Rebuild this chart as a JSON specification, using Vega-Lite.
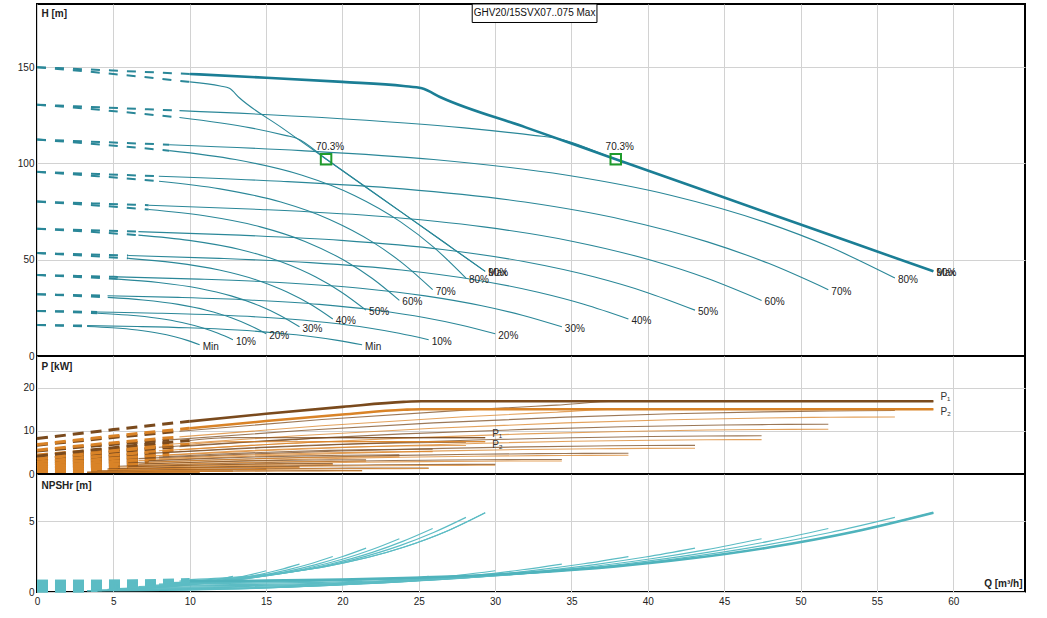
{
  "$schema": "https://vega.github.io/schema/vega-lite/v6.json",
  "padding": {"left": 16, "top": 2, "right": 10, "bottom": 5},
  "spacing": 0,
  "bounds": "flush",
  "config": {
    "font": "Liberation Sans",
    "view": {"stroke": "#000", "strokeWidth": 2},
    "axis": {"grid": true, "gridColor": "#d2d2d2", "gridWidth": 1, "domain": false, "ticks": false, "tickSize": 0, "labelFontSize": 10, "labelColor": "#222", "labelPadding": 3, "titleFontSize": 10, "titleFontWeight": "bold", "titleColor": "#222"},
    "axisY": {"titleAngle": 0, "titleAlign": "left", "titleBaseline": "top"},
    "axisX": {"labelFlush": false}
  },
  "datasets": {
    "duty": [
      {"Q": 18.93, "H": 102.2, "eta": "70.3%"},
      {"Q": 37.9, "H": 102.2, "eta": "70.3%"}
    ],
    "curves": [
      {"f":2,"s":"Min","z":"d","Q":0,"H":16.14,"P1":0.289,"P2":0.24,"N":0.081},
      {"f":2,"s":"Min","z":"d","Q":1.64,"H":15.95,"P1":0.362,"P2":0.309,"N":0.081},
      {"f":2,"s":"Min","z":"d","Q":3.28,"H":15.76,"P1":0.43,"P2":0.374,"N":0.082},
      {"f":2,"s":"Min","z":"o","Q":3.28,"H":15.76,"P1":0.43,"P2":0.374,"N":0.082},
      {"f":2,"s":"Min","z":"o","Q":6.56,"H":15.31,"P1":0.548,"P2":0.486,"N":0.095},
      {"f":2,"s":"Min","z":"o","Q":9.84,"H":14.65,"P1":0.643,"P2":0.576,"N":0.134},
      {"f":2,"s":"Min","z":"o","Q":13.12,"H":13.49,"P1":0.716,"P2":0.644,"N":0.218},
      {"f":2,"s":"Min","z":"o","Q":15.74,"H":11.97,"P1":0.758,"P2":0.682,"N":0.331},
      {"f":2,"s":"Min","z":"o","Q":18.04,"H":10.0,"P1":0.782,"P2":0.705,"N":0.473},
      {"f":2,"s":"Min","z":"o","Q":19.68,"H":8.12,"P1":0.793,"P2":0.714,"N":0.603},
      {"f":2,"s":"Min","z":"o","Q":21.29,"H":5.81,"P1":0.799,"P2":0.718,"N":0.756},
      {"f":1,"s":"Min","z":"d","Q":0,"H":16.14,"P1":0.145,"P2":0.12,"N":0.081},
      {"f":1,"s":"Min","z":"d","Q":1.64,"H":15.76,"P1":0.215,"P2":0.187,"N":0.082},
      {"f":1,"s":"Min","z":"d","Q":3.28,"H":15.31,"P1":0.274,"P2":0.243,"N":0.095},
      {"f":1,"s":"Min","z":"o","Q":3.28,"H":15.31,"P1":0.274,"P2":0.243,"N":0.095},
      {"f":1,"s":"Min","z":"o","Q":4.92,"H":14.65,"P1":0.322,"P2":0.288,"N":0.134},
      {"f":1,"s":"Min","z":"o","Q":6.56,"H":13.49,"P1":0.358,"P2":0.322,"N":0.218},
      {"f":1,"s":"Min","z":"o","Q":7.87,"H":11.97,"P1":0.379,"P2":0.341,"N":0.331},
      {"f":1,"s":"Min","z":"o","Q":9.02,"H":10.0,"P1":0.391,"P2":0.353,"N":0.473},
      {"f":1,"s":"Min","z":"o","Q":9.84,"H":8.12,"P1":0.397,"P2":0.357,"N":0.603},
      {"f":1,"s":"Min","z":"o","Q":10.65,"H":5.81,"P1":0.4,"P2":0.359,"N":0.756},

      {"f":2,"s":"10%","z":"d","Q":0,"H":23.43,"P1":0.506,"P2":0.42,"N":0.117},
      {"f":2,"s":"10%","z":"d","Q":1.98,"H":23.15,"P1":0.634,"P2":0.541,"N":0.117},
      {"f":2,"s":"10%","z":"d","Q":3.95,"H":22.87,"P1":0.752,"P2":0.654,"N":0.119},
      {"f":2,"s":"10%","z":"o","Q":3.95,"H":22.87,"P1":0.752,"P2":0.654,"N":0.119},
      {"f":2,"s":"10%","z":"o","Q":7.9,"H":22.23,"P1":0.958,"P2":0.849,"N":0.137},
      {"f":2,"s":"10%","z":"o","Q":11.86,"H":21.27,"P1":1.125,"P2":1.007,"N":0.194},
      {"f":2,"s":"10%","z":"o","Q":15.81,"H":19.59,"P1":1.252,"P2":1.126,"N":0.316},
      {"f":2,"s":"10%","z":"o","Q":18.97,"H":17.38,"P1":1.325,"P2":1.194,"N":0.48},
      {"f":2,"s":"10%","z":"o","Q":21.74,"H":14.52,"P1":1.368,"P2":1.233,"N":0.686},
      {"f":2,"s":"10%","z":"o","Q":23.71,"H":11.79,"P1":1.388,"P2":1.249,"N":0.875},
      {"f":2,"s":"10%","z":"o","Q":25.65,"H":8.44,"P1":1.397,"P2":1.256,"N":1.098},
      {"f":1,"s":"10%","z":"d","Q":0,"H":23.43,"P1":0.253,"P2":0.21,"N":0.117},
      {"f":1,"s":"10%","z":"d","Q":1.98,"H":22.87,"P1":0.376,"P2":0.327,"N":0.119},
      {"f":1,"s":"10%","z":"d","Q":3.95,"H":22.23,"P1":0.479,"P2":0.425,"N":0.137},
      {"f":1,"s":"10%","z":"o","Q":3.95,"H":22.23,"P1":0.479,"P2":0.425,"N":0.137},
      {"f":1,"s":"10%","z":"o","Q":5.93,"H":21.27,"P1":0.563,"P2":0.504,"N":0.194},
      {"f":1,"s":"10%","z":"o","Q":7.91,"H":19.59,"P1":0.626,"P2":0.563,"N":0.316},
      {"f":1,"s":"10%","z":"o","Q":9.49,"H":17.38,"P1":0.663,"P2":0.597,"N":0.48},
      {"f":1,"s":"10%","z":"o","Q":10.87,"H":14.52,"P1":0.684,"P2":0.617,"N":0.686},
      {"f":1,"s":"10%","z":"o","Q":11.86,"H":11.79,"P1":0.694,"P2":0.625,"N":0.875},
      {"f":1,"s":"10%","z":"o","Q":12.83,"H":8.44,"P1":0.699,"P2":0.628,"N":1.098},

      {"f":2,"s":"20%","z":"d","Q":0,"H":32.07,"P1":0.811,"P2":0.672,"N":0.16},
      {"f":2,"s":"20%","z":"d","Q":2.31,"H":31.7,"P1":1.015,"P2":0.867,"N":0.161},
      {"f":2,"s":"20%","z":"d","Q":4.62,"H":31.31,"P1":1.204,"P2":1.047,"N":0.163},
      {"f":2,"s":"20%","z":"o","Q":4.62,"H":31.31,"P1":1.204,"P2":1.047,"N":0.163},
      {"f":2,"s":"20%","z":"o","Q":9.25,"H":30.43,"P1":1.534,"P2":1.36,"N":0.188},
      {"f":2,"s":"20%","z":"o","Q":13.87,"H":29.11,"P1":1.801,"P2":1.613,"N":0.266},
      {"f":2,"s":"20%","z":"o","Q":18.5,"H":26.82,"P1":2.005,"P2":1.803,"N":0.433},
      {"f":2,"s":"20%","z":"o","Q":22.2,"H":23.79,"P1":2.123,"P2":1.912,"N":0.657},
      {"f":2,"s":"20%","z":"o","Q":25.43,"H":19.88,"P1":2.192,"P2":1.974,"N":0.939},
      {"f":2,"s":"20%","z":"o","Q":27.74,"H":16.14,"P1":2.222,"P2":2.001,"N":1.198},
      {"f":2,"s":"20%","z":"o","Q":30.01,"H":11.55,"P1":2.237,"P2":2.012,"N":1.503},
      {"f":1,"s":"20%","z":"d","Q":0,"H":32.07,"P1":0.406,"P2":0.336,"N":0.16},
      {"f":1,"s":"20%","z":"d","Q":2.31,"H":31.31,"P1":0.602,"P2":0.524,"N":0.163},
      {"f":1,"s":"20%","z":"d","Q":4.63,"H":30.43,"P1":0.767,"P2":0.68,"N":0.188},
      {"f":1,"s":"20%","z":"o","Q":4.63,"H":30.43,"P1":0.767,"P2":0.68,"N":0.188},
      {"f":1,"s":"20%","z":"o","Q":6.94,"H":29.11,"P1":0.901,"P2":0.807,"N":0.266},
      {"f":1,"s":"20%","z":"o","Q":9.25,"H":26.82,"P1":1.003,"P2":0.902,"N":0.433},
      {"f":1,"s":"20%","z":"o","Q":11.1,"H":23.79,"P1":1.062,"P2":0.956,"N":0.657},
      {"f":1,"s":"20%","z":"o","Q":12.72,"H":19.88,"P1":1.096,"P2":0.987,"N":0.939},
      {"f":1,"s":"20%","z":"o","Q":13.87,"H":16.14,"P1":1.111,"P2":1.001,"N":1.198},
      {"f":1,"s":"20%","z":"o","Q":15.01,"H":11.55,"P1":1.119,"P2":1.006,"N":1.503},

      {"f":2,"s":"30%","z":"d","Q":0,"H":42.07,"P1":1.218,"P2":1.01,"N":0.21},
      {"f":2,"s":"30%","z":"d","Q":2.65,"H":41.58,"P1":1.526,"P2":1.303,"N":0.211},
      {"f":2,"s":"30%","z":"d","Q":5.3,"H":41.08,"P1":1.809,"P2":1.573,"N":0.214},
      {"f":2,"s":"30%","z":"o","Q":5.3,"H":41.08,"P1":1.809,"P2":1.573,"N":0.214},
      {"f":2,"s":"30%","z":"o","Q":10.59,"H":39.92,"P1":2.305,"P2":2.044,"N":0.247},
      {"f":2,"s":"30%","z":"o","Q":15.89,"H":38.19,"P1":2.706,"P2":2.423,"N":0.349},
      {"f":2,"s":"30%","z":"o","Q":21.18,"H":35.18,"P1":3.012,"P2":2.709,"N":0.567},
      {"f":2,"s":"30%","z":"o","Q":25.42,"H":31.21,"P1":3.189,"P2":2.873,"N":0.862},
      {"f":2,"s":"30%","z":"o","Q":29.13,"H":26.07,"P1":3.293,"P2":2.966,"N":1.232},
      {"f":2,"s":"30%","z":"o","Q":31.78,"H":21.17,"P1":3.339,"P2":3.006,"N":1.572},
      {"f":2,"s":"30%","z":"o","Q":34.37,"H":15.15,"P1":3.361,"P2":3.023,"N":1.972},
      {"f":1,"s":"30%","z":"d","Q":0,"H":42.07,"P1":0.609,"P2":0.505,"N":0.21},
      {"f":1,"s":"30%","z":"d","Q":2.65,"H":41.08,"P1":0.905,"P2":0.787,"N":0.214},
      {"f":1,"s":"30%","z":"d","Q":5.3,"H":39.92,"P1":1.153,"P2":1.022,"N":0.247},
      {"f":1,"s":"30%","z":"o","Q":5.3,"H":39.92,"P1":1.153,"P2":1.022,"N":0.247},
      {"f":1,"s":"30%","z":"o","Q":7.95,"H":38.19,"P1":1.353,"P2":1.212,"N":0.349},
      {"f":1,"s":"30%","z":"o","Q":10.59,"H":35.18,"P1":1.506,"P2":1.355,"N":0.567},
      {"f":1,"s":"30%","z":"o","Q":12.71,"H":31.21,"P1":1.595,"P2":1.437,"N":0.862},
      {"f":1,"s":"30%","z":"o","Q":14.57,"H":26.07,"P1":1.647,"P2":1.483,"N":1.232},
      {"f":1,"s":"30%","z":"o","Q":15.89,"H":21.17,"P1":1.67,"P2":1.503,"N":1.572},
      {"f":1,"s":"30%","z":"o","Q":17.19,"H":15.15,"P1":1.681,"P2":1.512,"N":1.972},

      {"f":2,"s":"40%","z":"d","Q":0,"H":53.43,"P1":1.743,"P2":1.445,"N":0.267},
      {"f":2,"s":"40%","z":"d","Q":2.98,"H":52.8,"P1":2.183,"P2":1.864,"N":0.267},
      {"f":2,"s":"40%","z":"d","Q":5.97,"H":52.16,"P1":2.589,"P2":2.251,"N":0.272},
      {"f":2,"s":"40%","z":"o","Q":5.97,"H":52.16,"P1":2.589,"P2":2.251,"N":0.272},
      {"f":2,"s":"40%","z":"o","Q":11.94,"H":50.7,"P1":3.299,"P2":2.925,"N":0.313},
      {"f":2,"s":"40%","z":"o","Q":17.9,"H":48.5,"P1":3.873,"P2":3.467,"N":0.443},
      {"f":2,"s":"40%","z":"o","Q":23.87,"H":44.67,"P1":4.311,"P2":3.877,"N":0.721},
      {"f":2,"s":"40%","z":"o","Q":28.65,"H":39.63,"P1":4.564,"P2":4.111,"N":1.095},
      {"f":2,"s":"40%","z":"o","Q":32.82,"H":33.11,"P1":4.712,"P2":4.245,"N":1.565},
      {"f":2,"s":"40%","z":"o","Q":35.81,"H":26.88,"P1":4.778,"P2":4.302,"N":1.996},
      {"f":2,"s":"40%","z":"o","Q":38.73,"H":19.24,"P1":4.81,"P2":4.326,"N":2.504},
      {"f":1,"s":"40%","z":"d","Q":0,"H":53.43,"P1":0.872,"P2":0.723,"N":0.267},
      {"f":1,"s":"40%","z":"d","Q":2.99,"H":52.16,"P1":1.295,"P2":1.126,"N":0.272},
      {"f":1,"s":"40%","z":"d","Q":5.97,"H":50.7,"P1":1.65,"P2":1.463,"N":0.313},
      {"f":1,"s":"40%","z":"o","Q":5.97,"H":50.7,"P1":1.65,"P2":1.463,"N":0.313},
      {"f":1,"s":"40%","z":"o","Q":8.95,"H":48.5,"P1":1.937,"P2":1.734,"N":0.443},
      {"f":1,"s":"40%","z":"o","Q":11.94,"H":44.67,"P1":2.156,"P2":1.939,"N":0.721},
      {"f":1,"s":"40%","z":"o","Q":14.33,"H":39.63,"P1":2.282,"P2":2.056,"N":1.095},
      {"f":1,"s":"40%","z":"o","Q":16.41,"H":33.11,"P1":2.356,"P2":2.123,"N":1.565},
      {"f":1,"s":"40%","z":"o","Q":17.91,"H":26.88,"P1":2.389,"P2":2.151,"N":1.996},
      {"f":1,"s":"40%","z":"o","Q":19.37,"H":19.24,"P1":2.405,"P2":2.163,"N":2.504},

      {"f":2,"s":"50%","z":"d","Q":0,"H":66.14,"P1":2.401,"P2":1.991,"N":0.331},
      {"f":2,"s":"50%","z":"d","Q":3.32,"H":65.36,"P1":3.007,"P2":2.567,"N":0.331},
      {"f":2,"s":"50%","z":"d","Q":6.64,"H":64.57,"P1":3.566,"P2":3.1,"N":0.336},
      {"f":2,"s":"50%","z":"o","Q":6.64,"H":64.57,"P1":3.566,"P2":3.1,"N":0.336},
      {"f":2,"s":"50%","z":"o","Q":13.28,"H":62.76,"P1":4.543,"P2":4.028,"N":0.388},
      {"f":2,"s":"50%","z":"o","Q":19.92,"H":60.03,"P1":5.334,"P2":4.775,"N":0.548},
      {"f":2,"s":"50%","z":"o","Q":26.56,"H":55.3,"P1":5.937,"P2":5.34,"N":0.892},
      {"f":2,"s":"50%","z":"o","Q":31.87,"H":49.06,"P1":6.285,"P2":5.662,"N":1.356},
      {"f":2,"s":"50%","z":"o","Q":36.52,"H":40.99,"P1":6.49,"P2":5.846,"N":1.937},
      {"f":2,"s":"50%","z":"o","Q":39.84,"H":33.28,"P1":6.581,"P2":5.925,"N":2.471},
      {"f":2,"s":"50%","z":"o","Q":43.09,"H":23.81,"P1":6.625,"P2":5.957,"N":3.1},
      {"f":1,"s":"50%","z":"d","Q":0,"H":66.14,"P1":1.201,"P2":0.996,"N":0.331},
      {"f":1,"s":"50%","z":"d","Q":3.32,"H":64.57,"P1":1.783,"P2":1.55,"N":0.336},
      {"f":1,"s":"50%","z":"d","Q":6.64,"H":62.76,"P1":2.272,"P2":2.014,"N":0.388},
      {"f":1,"s":"50%","z":"o","Q":6.64,"H":62.76,"P1":2.272,"P2":2.014,"N":0.388},
      {"f":1,"s":"50%","z":"o","Q":9.96,"H":60.03,"P1":2.667,"P2":2.388,"N":0.548},
      {"f":1,"s":"50%","z":"o","Q":13.28,"H":55.3,"P1":2.969,"P2":2.67,"N":0.892},
      {"f":1,"s":"50%","z":"o","Q":15.94,"H":49.06,"P1":3.143,"P2":2.831,"N":1.356},
      {"f":1,"s":"50%","z":"o","Q":18.26,"H":40.99,"P1":3.245,"P2":2.923,"N":1.937},
      {"f":1,"s":"50%","z":"o","Q":19.92,"H":33.28,"P1":3.291,"P2":2.963,"N":2.471},
      {"f":1,"s":"50%","z":"o","Q":21.55,"H":23.81,"P1":3.313,"P2":2.979,"N":3.1},

      {"f":2,"s":"60%","z":"d","Q":0,"H":80.2,"P1":3.206,"P2":2.658,"N":0.401},
      {"f":2,"s":"60%","z":"d","Q":3.66,"H":79.26,"P1":4.015,"P2":3.429,"N":0.402},
      {"f":2,"s":"60%","z":"d","Q":7.31,"H":78.31,"P1":4.762,"P2":4.14,"N":0.408},
      {"f":2,"s":"60%","z":"o","Q":7.31,"H":78.31,"P1":4.762,"P2":4.14,"N":0.408},
      {"f":2,"s":"60%","z":"o","Q":14.62,"H":76.1,"P1":6.067,"P2":5.379,"N":0.47},
      {"f":2,"s":"60%","z":"o","Q":21.94,"H":72.8,"P1":7.123,"P2":6.376,"N":0.665},
      {"f":2,"s":"60%","z":"o","Q":29.25,"H":67.06,"P1":7.928,"P2":7.131,"N":1.082},
      {"f":2,"s":"60%","z":"o","Q":35.1,"H":59.5,"P1":8.394,"P2":7.561,"N":1.644},
      {"f":2,"s":"60%","z":"o","Q":40.22,"H":49.7,"P1":8.667,"P2":7.807,"N":2.349},
      {"f":2,"s":"60%","z":"o","Q":43.87,"H":40.36,"P1":8.788,"P2":7.913,"N":2.997},
      {"f":2,"s":"60%","z":"o","Q":47.45,"H":28.88,"P1":8.847,"P2":7.956,"N":3.759},
      {"f":1,"s":"60%","z":"d","Q":0,"H":80.2,"P1":1.603,"P2":1.329,"N":0.401},
      {"f":1,"s":"60%","z":"d","Q":3.66,"H":78.31,"P1":2.381,"P2":2.07,"N":0.408},
      {"f":1,"s":"60%","z":"d","Q":7.31,"H":76.1,"P1":3.034,"P2":2.69,"N":0.47},
      {"f":1,"s":"60%","z":"o","Q":7.31,"H":76.1,"P1":3.034,"P2":2.69,"N":0.47},
      {"f":1,"s":"60%","z":"o","Q":10.97,"H":72.8,"P1":3.562,"P2":3.188,"N":0.665},
      {"f":1,"s":"60%","z":"o","Q":14.63,"H":67.06,"P1":3.964,"P2":3.566,"N":1.082},
      {"f":1,"s":"60%","z":"o","Q":17.55,"H":59.5,"P1":4.197,"P2":3.781,"N":1.644},
      {"f":1,"s":"60%","z":"o","Q":20.11,"H":49.7,"P1":4.334,"P2":3.904,"N":2.349},
      {"f":1,"s":"60%","z":"o","Q":21.94,"H":40.36,"P1":4.394,"P2":3.957,"N":2.997},
      {"f":1,"s":"60%","z":"o","Q":23.73,"H":28.88,"P1":4.424,"P2":3.978,"N":3.759},

      {"f":2,"s":"70%","z":"d","Q":0,"H":95.62,"P1":4.173,"P2":3.461,"N":0.478},
      {"f":2,"s":"70%","z":"d","Q":3.99,"H":94.5,"P1":5.227,"P2":4.463,"N":0.479},
      {"f":2,"s":"70%","z":"d","Q":7.98,"H":93.36,"P1":6.199,"P2":5.39,"N":0.486},
      {"f":2,"s":"70%","z":"o","Q":7.98,"H":93.36,"P1":6.199,"P2":5.39,"N":0.486},
      {"f":2,"s":"70%","z":"o","Q":15.97,"H":90.73,"P1":7.899,"P2":7.003,"N":0.56},
      {"f":2,"s":"70%","z":"o","Q":23.95,"H":86.79,"P1":9.273,"P2":8.301,"N":0.792},
      {"f":2,"s":"70%","z":"o","Q":31.94,"H":79.95,"P1":10.321,"P2":9.283,"N":1.29},
      {"f":2,"s":"70%","z":"o","Q":38.32,"H":70.93,"P1":10.927,"P2":9.843,"N":1.96},
      {"f":2,"s":"70%","z":"o","Q":43.91,"H":59.26,"P1":11.283,"P2":10.163,"N":2.8},
      {"f":2,"s":"70%","z":"o","Q":47.9,"H":48.11,"P1":11.441,"P2":10.301,"N":3.573},
      {"f":2,"s":"70%","z":"o","Q":51.82,"H":34.43,"P1":11.517,"P2":10.357,"N":4.481},
      {"f":1,"s":"70%","z":"d","Q":0,"H":95.62,"P1":2.087,"P2":1.731,"N":0.478},
      {"f":1,"s":"70%","z":"d","Q":3.99,"H":93.36,"P1":3.1,"P2":2.695,"N":0.486},
      {"f":1,"s":"70%","z":"d","Q":7.99,"H":90.73,"P1":3.95,"P2":3.502,"N":0.56},
      {"f":1,"s":"70%","z":"o","Q":7.99,"H":90.73,"P1":3.95,"P2":3.502,"N":0.56},
      {"f":1,"s":"70%","z":"o","Q":11.98,"H":86.79,"P1":4.637,"P2":4.151,"N":0.792},
      {"f":1,"s":"70%","z":"o","Q":15.97,"H":79.95,"P1":5.161,"P2":4.642,"N":1.29},
      {"f":1,"s":"70%","z":"o","Q":19.16,"H":70.93,"P1":5.464,"P2":4.922,"N":1.96},
      {"f":1,"s":"70%","z":"o","Q":21.96,"H":59.26,"P1":5.642,"P2":5.082,"N":2.8},
      {"f":1,"s":"70%","z":"o","Q":23.95,"H":48.11,"P1":5.721,"P2":5.151,"N":3.573},
      {"f":1,"s":"70%","z":"o","Q":25.91,"H":34.43,"P1":5.759,"P2":5.179,"N":4.481},

      {"f":2,"s":"80%","z":"d","Q":0,"H":112.39,"P1":5.318,"P2":4.41,"N":0.562},
      {"f":2,"s":"80%","z":"d","Q":4.33,"H":111.07,"P1":6.661,"P2":5.688,"N":0.563},
      {"f":2,"s":"80%","z":"d","Q":8.66,"H":109.74,"P1":7.899,"P2":6.868,"N":0.572},
      {"f":2,"s":"80%","z":"o","Q":8.66,"H":109.74,"P1":7.899,"P2":6.868,"N":0.572},
      {"f":2,"s":"80%","z":"o","Q":17.31,"H":106.65,"P1":10.066,"P2":8.924,"N":0.659},
      {"f":2,"s":"80%","z":"o","Q":25.97,"H":102.02,"P1":11.817,"P2":10.578,"N":0.931},
      {"f":2,"s":"80%","z":"o","Q":34.62,"H":93.98,"P1":13.153,"P2":11.83,"N":1.516},
      {"f":2,"s":"80%","z":"o","Q":41.55,"H":83.38,"P1":13.925,"P2":12.543,"N":2.304},
      {"f":2,"s":"80%","z":"o","Q":47.61,"H":69.65,"P1":14.379,"P2":12.952,"N":3.292},
      {"f":2,"s":"80%","z":"o","Q":51.94,"H":56.55,"P1":14.58,"P2":13.127,"N":4.2},
      {"f":2,"s":"80%","z":"o","Q":56.18,"H":40.47,"P1":14.677,"P2":13.198,"N":5.267},
      {"f":1,"s":"80%","z":"d","Q":0,"H":112.39,"P1":2.659,"P2":2.205,"N":0.562},
      {"f":1,"s":"80%","z":"d","Q":4.33,"H":109.74,"P1":3.95,"P2":3.434,"N":0.572},
      {"f":1,"s":"80%","z":"d","Q":8.66,"H":106.65,"P1":5.033,"P2":4.462,"N":0.659},
      {"f":1,"s":"80%","z":"o","Q":8.66,"H":106.65,"P1":5.033,"P2":4.462,"N":0.659},
      {"f":1,"s":"80%","z":"o","Q":12.99,"H":102.02,"P1":5.909,"P2":5.289,"N":0.931},
      {"f":1,"s":"80%","z":"o","Q":17.31,"H":93.98,"P1":6.577,"P2":5.915,"N":1.516},
      {"f":1,"s":"80%","z":"o","Q":20.78,"H":83.38,"P1":6.963,"P2":6.272,"N":2.304},
      {"f":1,"s":"80%","z":"o","Q":23.81,"H":69.65,"P1":7.19,"P2":6.476,"N":3.292},
      {"f":1,"s":"80%","z":"o","Q":25.97,"H":56.55,"P1":7.29,"P2":6.564,"N":4.2},
      {"f":1,"s":"80%","z":"o","Q":28.09,"H":40.47,"P1":7.339,"P2":6.599,"N":5.267},

      {"f":2,"s":"90%","z":"d","Q":0,"H":130.52,"P1":6.655,"P2":5.519,"N":0.653},
      {"f":2,"s":"90%","z":"d","Q":4.66,"H":128.99,"P1":8.335,"P2":7.118,"N":0.654},
      {"f":2,"s":"90%","z":"d","Q":9.33,"H":127.44,"P1":9.886,"P2":8.595,"N":0.664},
      {"f":2,"s":"90%","z":"o","Q":9.33,"H":127.44,"P1":9.886,"P2":8.595,"N":0.664},
      {"f":2,"s":"90%","z":"o","Q":18.66,"H":123.85,"P1":12.597,"P2":11.168,"N":0.765},
      {"f":2,"s":"90%","z":"o","Q":27.98,"H":118.48,"P1":14.788,"P2":13.238,"N":1.082},
      {"f":2,"s":"90%","z":"o","Q":32.65,"H":114.46,"P1":15.689,"P2":14.082,"N":1.365},
      {"f":2,"s":"90%","z":"o","Q":34,"H":113.1,"P1":15.924,"P2":14.301,"N":1.468},
      {"f":2,"s":"90%","z":"o","Q":37.9,"H":102.2,"P1":16.82,"P2":14.99,"N":1.81},
      {"f":2,"s":"90%","z":"o","Q":48,"H":73.92,"P1":16.82,"P2":14.99,"N":3.156},
      {"f":2,"s":"90%","z":"o","Q":53.5,"H":58.52,"P1":16.82,"P2":14.99,"N":4.255},
      {"f":2,"s":"90%","z":"o","Q":58.7,"H":43.96,"P1":16.82,"P2":14.99,"N":5.598},
      {"f":1,"s":"90%","z":"d","Q":0,"H":130.52,"P1":3.328,"P2":2.76,"N":0.653},
      {"f":1,"s":"90%","z":"d","Q":4.66,"H":127.44,"P1":4.943,"P2":4.298,"N":0.664},
      {"f":1,"s":"90%","z":"d","Q":9.33,"H":123.85,"P1":6.299,"P2":5.584,"N":0.765},
      {"f":1,"s":"90%","z":"o","Q":9.33,"H":123.85,"P1":6.299,"P2":5.584,"N":0.765},
      {"f":1,"s":"90%","z":"o","Q":13.99,"H":118.48,"P1":7.394,"P2":6.619,"N":1.082},
      {"f":1,"s":"90%","z":"o","Q":16.32,"H":114.46,"P1":7.845,"P2":7.041,"N":1.365},
      {"f":1,"s":"90%","z":"o","Q":17,"H":113.1,"P1":7.962,"P2":7.151,"N":1.468},
      {"f":1,"s":"90%","z":"o","Q":18.95,"H":102.2,"P1":8.41,"P2":7.5,"N":1.81},
      {"f":1,"s":"90%","z":"o","Q":24,"H":73.92,"P1":8.41,"P2":7.5,"N":3.156},
      {"f":1,"s":"90%","z":"o","Q":26.75,"H":58.52,"P1":8.41,"P2":7.5,"N":4.255},
      {"f":1,"s":"90%","z":"o","Q":29.35,"H":43.96,"P1":8.41,"P2":7.5,"N":5.598},

      {"f":2,"s":"Max","z":"d","Q":0,"H":150,"P1":8.2,"P2":6.8,"N":0.75},
      {"f":2,"s":"Max","z":"d","Q":5,"H":148.25,"P1":10.27,"P2":8.77,"N":0.751},
      {"f":2,"s":"Max","z":"d","Q":10,"H":146.46,"P1":12.18,"P2":10.59,"N":0.763},
      {"f":2,"s":"Max","z":"o","Q":10,"H":146.46,"P1":12.18,"P2":10.59,"N":0.763},
      {"f":2,"s":"Max","z":"o","Q":15,"H":144.54,"P1":13.93,"P2":12.25,"N":0.8},
      {"f":2,"s":"Max","z":"o","Q":20,"H":142.34,"P1":15.52,"P2":13.76,"N":0.879},
      {"f":2,"s":"Max","z":"o","Q":24,"H":140.2,"P1":16.68,"P2":14.85,"N":0.986},
      {"f":2,"s":"Max","z":"o","Q":25.2,"H":139.0,"P1":16.82,"P2":14.99,"N":1.027},
      {"f":2,"s":"Max","z":"o","Q":26.5,"H":134.1,"P1":16.82,"P2":14.99,"N":1.073},
      {"f":2,"s":"Max","z":"o","Q":32,"H":118.72,"P1":16.82,"P2":14.99,"N":1.349},
      {"f":2,"s":"Max","z":"o","Q":37.9,"H":102.2,"P1":16.82,"P2":14.99,"N":1.81},
      {"f":2,"s":"Max","z":"o","Q":48,"H":73.92,"P1":16.82,"P2":14.99,"N":3.156},
      {"f":2,"s":"Max","z":"o","Q":53.5,"H":58.52,"P1":16.82,"P2":14.99,"N":4.255},
      {"f":2,"s":"Max","z":"o","Q":58.7,"H":43.96,"P1":16.82,"P2":14.99,"N":5.598},
      {"f":1,"s":"Max","z":"d","Q":0,"H":150,"P1":4.1,"P2":3.4,"N":0.75},
      {"f":1,"s":"Max","z":"d","Q":5,"H":146.46,"P1":6.09,"P2":5.3,"N":0.763},
      {"f":1,"s":"Max","z":"d","Q":10,"H":142.34,"P1":7.76,"P2":6.88,"N":0.879},
      {"f":1,"s":"Max","z":"o","Q":10,"H":142.34,"P1":7.76,"P2":6.88,"N":0.879},
      {"f":1,"s":"Max","z":"o","Q":12,"H":140.2,"P1":8.34,"P2":7.43,"N":0.986},
      {"f":1,"s":"Max","z":"o","Q":12.6,"H":139.0,"P1":8.41,"P2":7.5,"N":1.027},
      {"f":1,"s":"Max","z":"o","Q":13.25,"H":134.1,"P1":8.41,"P2":7.5,"N":1.073},
      {"f":1,"s":"Max","z":"o","Q":16,"H":118.72,"P1":8.41,"P2":7.5,"N":1.349},
      {"f":1,"s":"Max","z":"o","Q":18.95,"H":102.2,"P1":8.41,"P2":7.5,"N":1.81},
      {"f":1,"s":"Max","z":"o","Q":24,"H":73.92,"P1":8.41,"P2":7.5,"N":3.156},
      {"f":1,"s":"Max","z":"o","Q":26.75,"H":58.52,"P1":8.41,"P2":7.5,"N":4.255},
      {"f":1,"s":"Max","z":"o","Q":29.35,"H":43.96,"P1":8.41,"P2":7.5,"N":5.598}
    ]
  },
  "vconcat": [
    {
      "width": 988,
      "height": 352,
      "layer": [
        {
          "data": {"name": "curves"},
          "encoding": {
            "x": {"field": "Q", "type": "quantitative", "scale": {"domain": [0, 64.7], "nice": false, "zero": false}, "axis": {"values": [0,5,10,15,20,25,30,35,40,45,50,55,60], "labels": false, "title": null}},
            "y": {"field": "H", "type": "quantitative", "scale": {"domain": [0, 182.8], "nice": false}, "axis": {"values": [0,50,100,150], "title": "H [m]", "titleX": 4, "titleY": 4}}
          },
          "layer": [
            {
              "transform": [{"filter": "datum.z === 'd'"}],
              "mark": {"type": "line", "color": "#2a8798", "strokeWidth": 2, "strokeDash": [9, 9], "interpolate": "monotone"},
              "encoding": {"detail": [{"field": "f", "type": "nominal"}, {"field": "s", "type": "nominal"}]}
            },
            {
              "transform": [{"filter": "datum.z === 'o' && !(datum.f === 2 && datum.s === 'Max')"}],
              "mark": {"type": "line", "color": "#2a8798", "strokeWidth": 1.1, "interpolate": "monotone"},
              "encoding": {"detail": [{"field": "f", "type": "nominal"}, {"field": "s", "type": "nominal"}]}
            },
            {
              "transform": [{"filter": "datum.z === 'o' && datum.f === 2 && datum.s === 'Max'"}],
              "mark": {"type": "line", "color": "#1b7e95", "strokeWidth": 2.6, "interpolate": "monotone"},
              "encoding": {}
            },
            {
              "transform": [
                {"filter": "datum.z === 'o'"},
                {"window": [{"op": "row_number", "as": "r"}], "sort": [{"field": "Q", "order": "descending"}], "groupby": ["f", "s"]},
                {"filter": "datum.r === 1"}
              ],
              "mark": {"type": "text", "align": "left", "baseline": "middle", "dx": 3, "dy": 2, "fontSize": 10, "color": "#222"},
              "encoding": {"text": {"field": "s"}}
            },
            {
              "data": {"name": "duty"},
              "mark": {"type": "point", "shape": "square", "size": 110, "filled": false, "stroke": "#1e9b2c", "strokeWidth": 2, "opacity": 1}
            },
            {
              "data": {"name": "duty"},
              "mark": {"type": "text", "dx": 4, "dy": -12, "fontSize": 10, "color": "#222"},
              "encoding": {"text": {"field": "eta"}}
            }
          ]
        },
        {
          "data": {"values": [{"model": "GHV20/15SVX07..075 Max"}]},
          "mark": {"type": "rect", "fill": "#ffffff", "stroke": "#000000", "strokeWidth": 1},
          "encoding": {
            "x": {"datum": 28.5},
            "x2": {"datum": 36.67},
            "y": {"datum": 182.8},
            "y2": {"datum": 173.2}
          }
        },
        {
          "data": {"values": [{"model": "GHV20/15SVX07..075 Max"}]},
          "mark": {"type": "text", "fontSize": 10, "color": "#111111", "baseline": "middle"},
          "encoding": {
            "x": {"datum": 32.58},
            "y": {"datum": 178.2},
            "text": {"field": "model"}
          }
        }
      ]
    },
    {
      "width": 988,
      "height": 118,
      "data": {"name": "curves"},
      "transform": [{"fold": ["P1", "P2"], "as": ["k", "P"]}],
      "encoding": {
        "x": {"field": "Q", "type": "quantitative", "scale": {"domain": [0, 64.7], "nice": false, "zero": false}, "axis": {"values": [0,5,10,15,20,25,30,35,40,45,50,55,60], "labels": false, "title": null}},
        "y": {"field": "P", "type": "quantitative", "scale": {"domain": [0, 27.3], "nice": false}, "axis": {"values": [0,10,20], "title": "P [kW]", "titleX": 4, "titleY": 5}},
        "color": {"field": "k", "type": "nominal", "scale": {"domain": ["P1", "P2"], "range": ["#7a4a1d", "#d98327"]}, "legend": null}
      },
      "layer": [
        {
          "transform": [{"filter": "datum.z === 'd'"}],
          "mark": {"type": "line", "strokeWidth": 3, "strokeDash": [11, 7], "interpolate": "monotone"},
          "encoding": {"detail": [{"field": "f", "type": "nominal"}, {"field": "s", "type": "nominal"}]}
        },
        {
          "transform": [{"filter": "datum.z === 'o' && !(datum.f === 2 && datum.s === 'Max')"}],
          "mark": {"type": "line", "strokeWidth": 1.1, "opacity": 0.75, "interpolate": "monotone"},
          "encoding": {"detail": [{"field": "f", "type": "nominal"}, {"field": "s", "type": "nominal"}]}
        },
        {
          "transform": [{"filter": "datum.z === 'o' && datum.f === 2 && datum.s === 'Max'"}],
          "mark": {"type": "line", "strokeWidth": 2.6, "interpolate": "monotone"},
          "encoding": {}
        },
        {
          "transform": [
            {"filter": "datum.z === 'o' && datum.s === 'Max' && datum.k === 'P1'"},
            {"window": [{"op": "row_number", "as": "r"}], "sort": [{"field": "Q", "order": "descending"}], "groupby": ["f"]},
            {"filter": "datum.r === 1"}
          ],
          "mark": {"type": "text", "align": "left", "baseline": "middle", "dx": 7, "dy": -4, "fontSize": 10, "text": "P₁"},
          "encoding": {"color": {"value": "#333"}}
        },
        {
          "transform": [
            {"filter": "datum.z === 'o' && datum.s === 'Max' && datum.k === 'P2'"},
            {"window": [{"op": "row_number", "as": "r"}], "sort": [{"field": "Q", "order": "descending"}], "groupby": ["f"]},
            {"filter": "datum.r === 1"}
          ],
          "mark": {"type": "text", "align": "left", "baseline": "middle", "dx": 7, "dy": 3, "fontSize": 10, "text": "P₂"},
          "encoding": {"color": {"value": "#333"}}
        }
      ]
    },
    {
      "width": 988,
      "height": 118,
      "data": {"name": "curves"},
      "encoding": {
        "x": {"field": "Q", "type": "quantitative", "scale": {"domain": [0, 64.7], "nice": false, "zero": false}, "axis": {"values": [0,5,10,15,20,25,30,35,40,45,50,55,60], "title": "Q [m³/h]", "labelPadding": 4, "titleX": 985, "titleY": -4, "titleAlign": "right", "titleBaseline": "bottom"}},
        "y": {"field": "N", "type": "quantitative", "scale": {"domain": [0, 8.33], "nice": false}, "axis": {"values": [0,5], "title": "NPSHr [m]", "titleX": 4, "titleY": 6}}
      },
      "layer": [
        {
          "transform": [{"filter": "datum.z === 'd'"}],
          "mark": {"type": "line", "color": "#5cbcc4", "strokeWidth": 3.2, "strokeDash": [11, 7], "interpolate": "monotone"},
          "encoding": {"detail": [{"field": "f", "type": "nominal"}, {"field": "s", "type": "nominal"}]}
        },
        {
          "transform": [{"filter": "datum.z === 'o' && !(datum.f === 2 && datum.s === 'Max')"}],
          "mark": {"type": "line", "color": "#5cbcc4", "strokeWidth": 1.2, "interpolate": "monotone"},
          "encoding": {"detail": [{"field": "f", "type": "nominal"}, {"field": "s", "type": "nominal"}]}
        },
        {
          "transform": [{"filter": "datum.z === 'o' && datum.f === 2 && datum.s === 'Max'"}],
          "mark": {"type": "line", "color": "#4fb3bc", "strokeWidth": 2.6, "interpolate": "monotone"},
          "encoding": {}
        }
      ]
    }
  ]
}
